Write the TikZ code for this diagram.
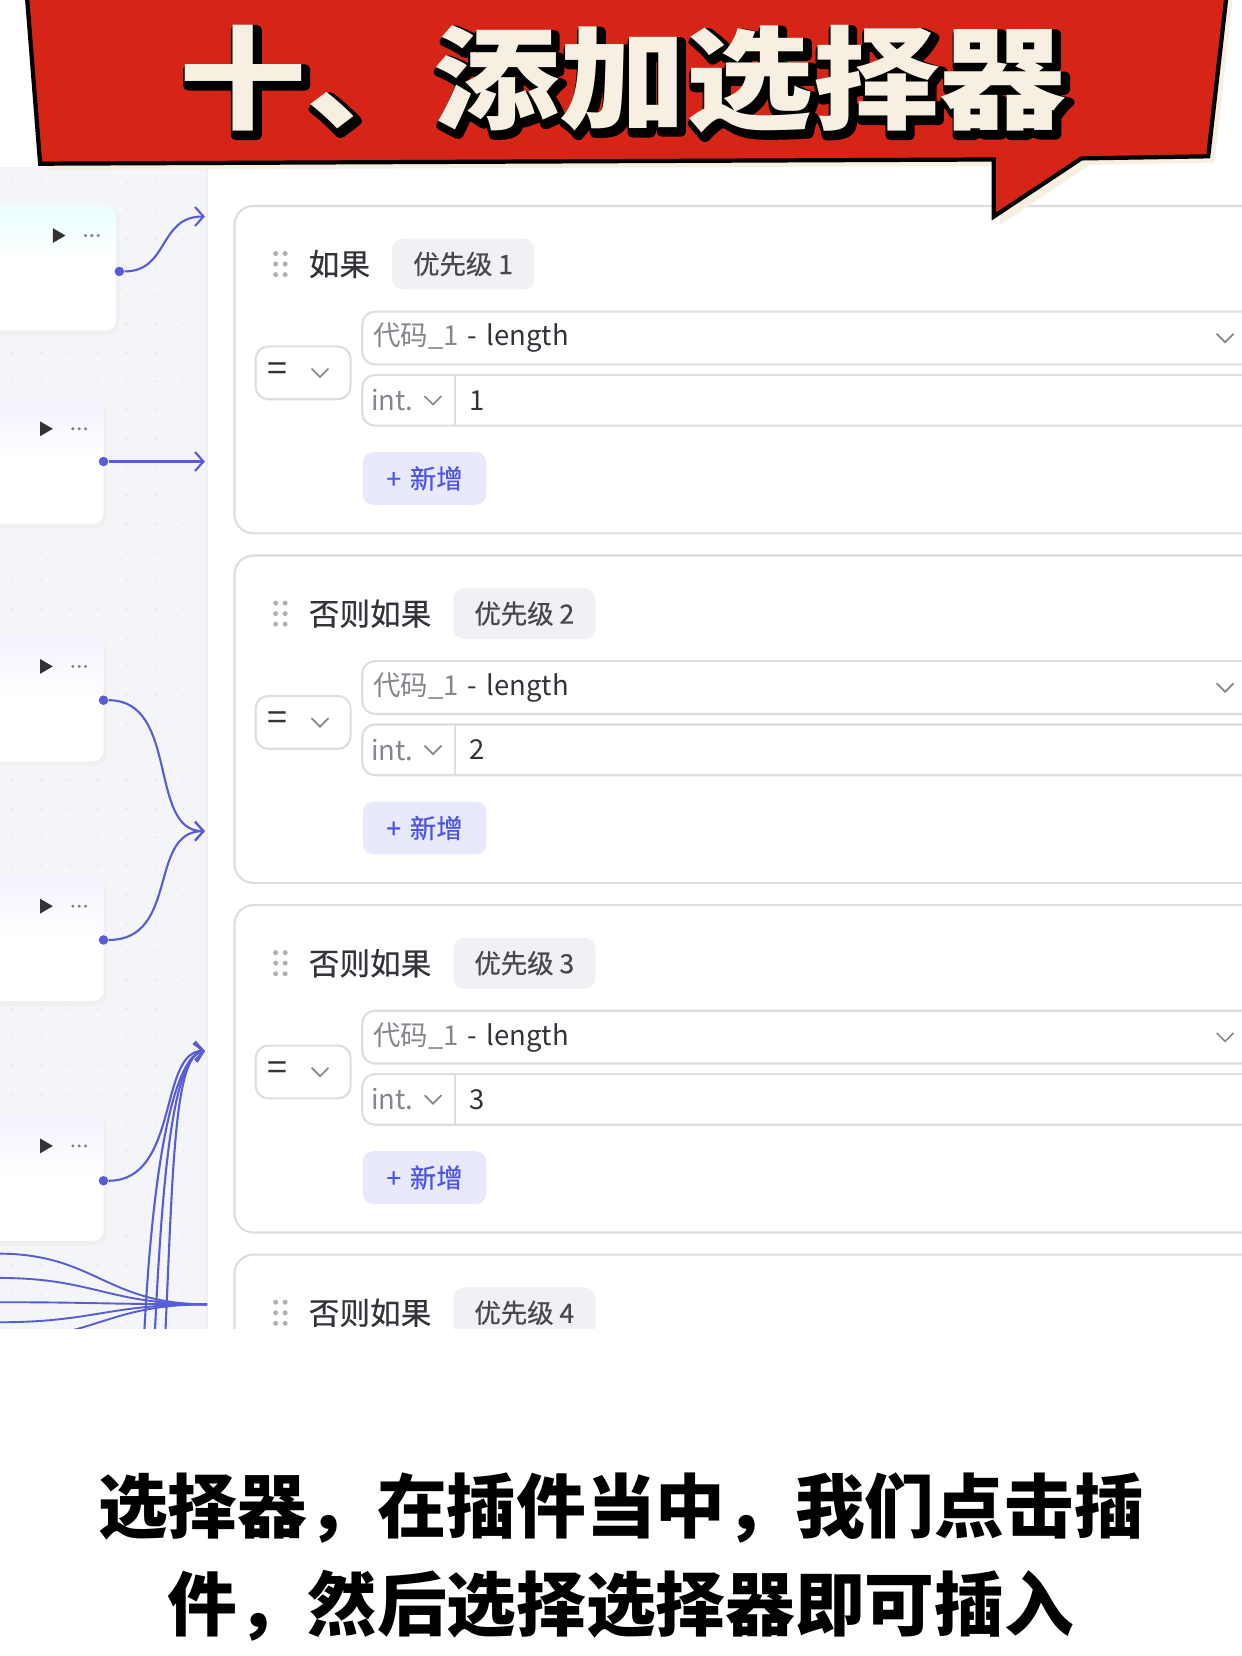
\documentclass[tikz,border=0pt]{standalone}
\usepackage{fontspec}
\setmainfont{Noto Sans CJK SC}
\newfontfamily\cjk{Noto Sans CJK SC}
\newfontfamily\cjkmid{Noto Sans CJK SC}[FakeBold=0.5]
\usetikzlibrary{arrows.meta,positioning}

\definecolor{bannerred}{RGB}{214,36,22}
\definecolor{cream}{RGB}{247,240,226}
\definecolor{canvasbg}{RGB}{244,245,248}
\definecolor{cardline}{RGB}{220,222,228}
\definecolor{wireblue}{RGB}{88,92,214}
\definecolor{tagbg}{RGB}{240,241,245}
\definecolor{btnbg}{RGB}{232,234,252}
\definecolor{btnblue}{RGB}{78,85,227}
\definecolor{txtdark}{RGB}{50,52,58}
\definecolor{txtgray}{RGB}{132,135,142}

\tikzset{
  wire/.style={draw=wireblue, line width=1pt, -{Straight Barb[length=4pt,width=9pt]}},
  wireplain/.style={draw=wireblue, line width=0.9pt},
  portdot/.style={circle, fill=wireblue, inner sep=0pt, minimum size=4.5pt},
  cardbox/.style={draw=cardline, line width=1pt, fill=white, rounded corners=9pt},
  fieldbox/.style={draw=cardline, line width=1pt, fill=white, rounded corners=6pt},
  headtext/.style={inner sep=0pt, anchor=west, text=txtdark, font=\cjkmid\fontsize{14.5}{17}\selectfont},
  tagbox/.style={fill=tagbg, rounded corners=5pt, inner xsep=10pt, minimum height=24pt,
    text=txtdark!90, font=\cjkmid\fontsize{12.5}{15}\selectfont},
  fieldtext/.style={inner sep=0pt, anchor=west, font=\fontsize{13}{15}\selectfont},
  addbtn/.style={fill=btnbg, rounded corners=5pt, minimum width=58.5pt, minimum height=25pt,
    text=btnblue, font=\cjkmid\fontsize{12.5}{15}\selectfont},
  chevline/.style={draw=txtgray, line width=0.8pt},
  titletext/.style={inner sep=0pt, yscale=0.88, font=\cjk\bfseries\fontsize{60}{64}\selectfont},
  captext/.style={inner sep=0pt, text=black, font=\cjk\bfseries\fontsize{33}{36}\selectfont}
}

% small dropdown arrow
\newcommand\chev[1]{\draw[chevline, shift={(#1)}] (-8,-4) -- (0,4) -- (8,-4);}
% outlined text: fill, then a thick black stroke
\newcommand\strokedtext[2]{\special{pdf:literal direct 0 0 0 RG #1 w 1 j 2 Tr}#2\special{pdf:literal direct 0 Tr}}

% node card on the canvas: right edge, top edge, tint
\newcommand\flowcard[3]{%
  \fill[black!6, rounded corners=5pt] (-20,#2+2) rectangle (#1+3,#2+122);
  \fill[white, rounded corners=5pt] (-20,#2) rectangle (#1,#2+118);
  \shade[top color=#3, bottom color=white, rounded corners=5pt] (-20,#2) rectangle (#1,#2+55);
  \fill[black!80] (#1-60,#2+21) -- (#1-60,#2+35) -- (#1-48,#2+28) -- cycle;
  \foreach \dx in {-29,-23,-17} \fill[black!50] (#1+\dx,#2+28) circle (1.6);
}

\begin{document}
\begin{tikzpicture}[x=0.5pt,y=-0.5pt]
\useasboundingbox (0,0) rectangle (1176,1568);
\fill[white] (0,0) rectangle (1176,1568);

%% screenshot of the workflow editor
\begin{scope}
\clip (0,158) rectangle (1176,1258);
\fill[canvasbg] (0,158) rectangle (195,1258);
\foreach \i in {0,...,6}
  \foreach \j in {0,...,40}
    \fill[black!9] (12+27*\i,172+27*\j) circle (1.2);
\fill[white] (195,158) rectangle (1176,1258);
\draw[black!6, line width=1pt] (196,158) -- (196,1258);

% Canvas nodes
\flowcard{110}{195}{cyan!8}
\flowcard{98}{378}{blue!5}
\flowcard{98}{603}{blue!5}
\flowcard{98}{830}{blue!5}
\flowcard{98}{1057}{blue!5}

\node[portdot] (d1) at (113,257) {};
\node[portdot] (d2) at (98,437) {};
\node[portdot] (d3) at (98,663) {};
\node[portdot] (d4) at (98,890) {};
\node[portdot] (d5) at (98,1118) {};

\coordinate (e1) at (194,205);
\coordinate (e2) at (194,437);
\coordinate (e3) at (194,787);
\coordinate (e5) at (194,995);
\coordinate (e6) at (196,1235);

\draw[wire] (d1) .. controls (160,257) and (150,205) .. (e1);
\draw[wire] (d2) -- (e2);
\draw[wire] (d3) .. controls (170,663) and (140,787) .. (e3);
\draw[wire] (d4) .. controls (170,890) and (140,787) .. (e3);
\draw[wire] (d5) .. controls (170,1118) and (150,995) .. (e5);

% wires coming in from below
\foreach \xx/\nm in {136/a,146/b,156/c} {
  \coordinate (f\nm) at (\xx,1275);
  \draw[wire] (f\nm) .. controls (\xx+8,1100) and (165,1000) .. (e5);
}
\foreach \yy/\nm in {1187/a,1210/b,1233/c,1252/d,1268/e} {
  \coordinate (s\nm) at (-2,\yy);
  \draw[wireplain] (s\nm) .. controls (90,\yy) and (100,1235) .. (e6);
}

% Condition cards
\foreach \k/\head/\pr in {0/如果/1, 1/否则如果/2, 2/否则如果/3, 3/否则如果/4} {
  \pgfmathsetmacro\o{331*\k}
  \draw[cardbox] (222,195+\o) rectangle (1220,505+\o);
  \foreach \hx in {261,270}
    \foreach \hy in {240,250,260}
      \fill[black!30] (\hx,\hy+\o) circle (2.4);
  \node[headtext] (h\k) at (292,250+\o) {\head};
  \node[tagbox, right=10pt of h\k] (p\k) {优先级 \pr};
}
\foreach \k/\val in {0/1, 1/2, 2/3} {
  \pgfmathsetmacro\o{331*\k}
  % operator
  \draw[fieldbox] (242,328+\o) rectangle (332,378+\o);
  \node[fieldtext, text=txtdark, font=\fontsize{17}{17}\selectfont] (op\k) at (253,352+\o) {=};
  \chev{303,353+\o}
  % left value
  \draw[fieldbox] (343,295+\o) rectangle (1220,345+\o);
  \node[fieldtext] (lv\k) at (353,320+\o) {\textcolor{txtgray}{代码\_1}\,\,\textcolor{txtdark}{-\,\,length}};
  \chev{1160,320+\o}
  % right value
  \draw[fieldbox] (343,355+\o) rectangle (1220,403+\o);
  \draw[cardline, line width=1pt] (431,355+\o) -- (431,403+\o);
  \node[fieldtext, text=txtgray] (ty\k) at (351,379+\o) {int.};
  \chev{410,379+\o}
  \node[fieldtext, text=txtdark] (rv\k) at (444,379+\o) {\val};
  % add button
  \node[addbtn] (add\k) at (402,453+\o) {+\,\,新增};
}
\end{scope}

%% title banner
\fill[cream] (31,-10) -- (44,161) -- (947,157) -- (947,213) -- (1032,156) -- (1150,154) -- (1168,-10) -- cycle;
\draw[line width=2pt, fill=bannerred, line join=miter]
  (25,-10) -- (38,155) -- (941,151) -- (941,205) -- (1024,150) -- (1144,148) -- (1162,-10) -- cycle;
\node[titletext, text=black] (tshadow) at (593,79) {\strokedtext{5}{十、添加选择器}};
\node[titletext, text=cream] (title) at (590,75) {十、添加选择器};

%% caption
\node[captext] (cap1) at (588,1428) {选择器，在插件当中，我们点击插};
\node[captext] (cap2) at (588,1520) {件，然后选择选择器即可插入};
\end{tikzpicture}
\end{document}
